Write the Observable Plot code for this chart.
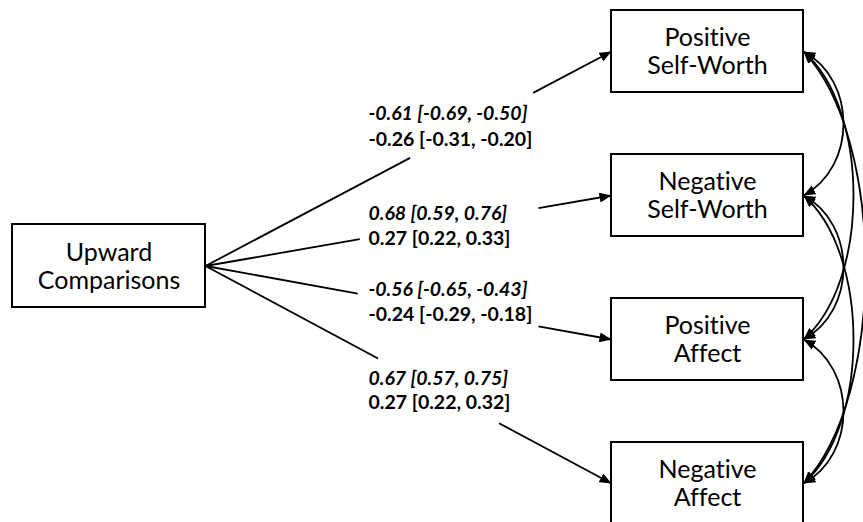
<!DOCTYPE html>
<html><head><meta charset="utf-8">
<script src="https://cdn.jsdelivr.net/npm/d3@7"></script>
<script src="https://cdn.jsdelivr.net/npm/@observablehq/plot@0.6"></script>
<style>html,body{margin:0;padding:0;background:#fff}#chart svg{display:block}#chart svg text{font-variant-ligatures:none;font-feature-settings:"liga" 0}</style>
</head><body><div id="chart"></div>
<script>
// ---- data ----
const predictor = "Upward\nComparisons";
const outcomes = ["Positive\nSelf-Worth", "Negative\nSelf-Worth", "Positive\nAffect", "Negative\nAffect"];
const standardized = ["-0.61 [-0.69, -0.50]", "0.68 [0.59, 0.76]", "-0.56 [-0.65, -0.43]", "0.67 [0.57, 0.75]"];
const unstandardized = ["-0.26 [-0.31, -0.20]", "0.27 [0.22, 0.33]", "-0.24 [-0.29, -0.18]", "0.27 [0.22, 0.32]"];
const covariances = [[0, 1], [1, 2], [2, 3], [0, 2], [1, 3], [0, 3]];

// ---- layout (pixels) ----
const W = 863, H = 522;
const predBox = {x1: 12, x2: 205, y1: 224, y2: 307};
const outBoxX = [611, 803];
const outBoxY = [[10, 92], [154, 236], [298, 380], [442, 524]];
const labelX = 368;
const labelY = [[113, 139], [213, 238], [289, 314], [378, 402]];
const gaps = [[0.504, 0.807], [0.380, 0.820], [0.375, 0.820], [0.425, 0.723]];
const bulge = {1: 40, 2: 50, 3: 62};
const FONT = "Lato, 'Open Sans', sans-serif";

// ---- derived tables ----
const nodes = [
  {name: predictor, x1: predBox.x1, x2: predBox.x2, y1: predBox.y1, y2: predBox.y2},
  ...outcomes.map((name, i) => ({name, x1: outBoxX[0], x2: outBoxX[1], y1: outBoxY[i][0], y2: outBoxY[i][1]}))
];
nodes.forEach(n => { n.cx = (n.x1 + n.x2) / 2; n.cy = (n.y1 + n.y2) / 2; });

const src = nodes[0];
const paths = outcomes.map((o, i) => {
  const t = nodes[i + 1];
  const x0 = src.x2, y0 = src.cy, x1 = t.x1, y1 = t.cy;
  const [a, b] = gaps[i];
  return {x0, y0, x1, y1,
    ax: x0 + (x1 - x0) * a, ay: y0 + (y1 - y0) * a,
    bx: x0 + (x1 - x0) * b, by: y0 + (y1 - y0) * b};
});

const labels = [];
outcomes.forEach((o, i) => {
  labels.push({text: standardized[i], y: labelY[i][0], italic: true});
  labels.push({text: unstandardized[i], y: labelY[i][1], italic: false});
});

const covs = covariances.map(([i, j]) => ({
  x0: outBoxX[1], y0: nodes[i + 1].cy, x1: outBoxX[1], y1: nodes[j + 1].cy, step: j - i
}));

// ---- helpers ----
function triangle(orient) {
  return (color) => {
    const ns = "http://www.w3.org/2000/svg";
    const m = document.createElementNS(ns, "marker");
    m.setAttribute("viewBox", "-12 -5 12 10");
    m.setAttribute("markerUnits", "userSpaceOnUse");
    m.setAttribute("markerWidth", 12);
    m.setAttribute("markerHeight", 10);
    m.setAttribute("refX", 0);
    m.setAttribute("refY", 0);
    m.setAttribute("orient", orient);
    const p = document.createElementNS(ns, "path");
    p.setAttribute("d", "M-12,-5L0,0L-12,5Z");
    p.setAttribute("fill", color);
    p.setAttribute("stroke", "none");
    m.appendChild(p);
    return m;
  };
}
const headEnd = triangle("auto");
const headStart = triangle("auto-start-reverse");

function bulgeCurve(b) {
  return (ctx) => {
    let pts;
    return {
      areaStart() {}, areaEnd() {},
      lineStart() { pts = []; },
      point(x, y) { pts.push([x, y]); },
      lineEnd() {
        const [[x0, y0], [x1, y1]] = pts;
        const c = b / 0.75, d = (y1 - y0) * 0.2;
        ctx.moveTo(x0, y0);
        ctx.bezierCurveTo(x0 + c, y0 + d, x1 + c, y1 - d, x1, y1);
      }
    };
  };
}

const covMarks = Object.keys(bulge).map(step =>
  Plot.link(covs.filter(c => c.step === +step), {
    x1: "x0", y1: "y0", x2: "x1", y2: "y1",
    curve: bulgeCurve(bulge[step]),
    stroke: "black", strokeWidth: 1.8,
    markerStart: headStart, markerEnd: headEnd
  })
);

const chart = Plot.plot({
  width: W, height: H,
  margin: 0,
  x: {domain: [0, W], range: [0, W], axis: null},
  y: {domain: [0, H], range: [0, H], axis: null},
  style: {background: "white"},
  marks: [
    Plot.link(paths, {x1: "x0", y1: "y0", x2: "ax", y2: "ay", stroke: "black", strokeWidth: 1.8}),
    Plot.link(paths, {x1: "bx", y1: "by", x2: "x1", y2: "y1", stroke: "black", strokeWidth: 1.8, markerEnd: headEnd}),
    ...covMarks,
    Plot.rect(nodes, {x1: "x1", x2: "x2", y1: "y1", y2: "y2", fill: "white", stroke: "black", strokeWidth: 2}),
    Plot.text(nodes, {x: "cx", y: "cy", text: "name", fontFamily: FONT, fontSize: 25, lineHeight: 1.12, fill: "black"}),
    Plot.text(labels.filter(d => d.italic), {x: labelX, y: "y", text: "text", textAnchor: "start", fontFamily: FONT, fontSize: 19.5, fontWeight: "bold", fontStyle: "italic", fill: "black"}),
    Plot.text(labels.filter(d => !d.italic), {x: labelX, y: "y", text: "text", textAnchor: "start", fontFamily: FONT, fontSize: 19.5, fontWeight: "bold", fill: "black"})
  ]
});
document.getElementById("chart").appendChild(chart);
</script>
</body></html>
